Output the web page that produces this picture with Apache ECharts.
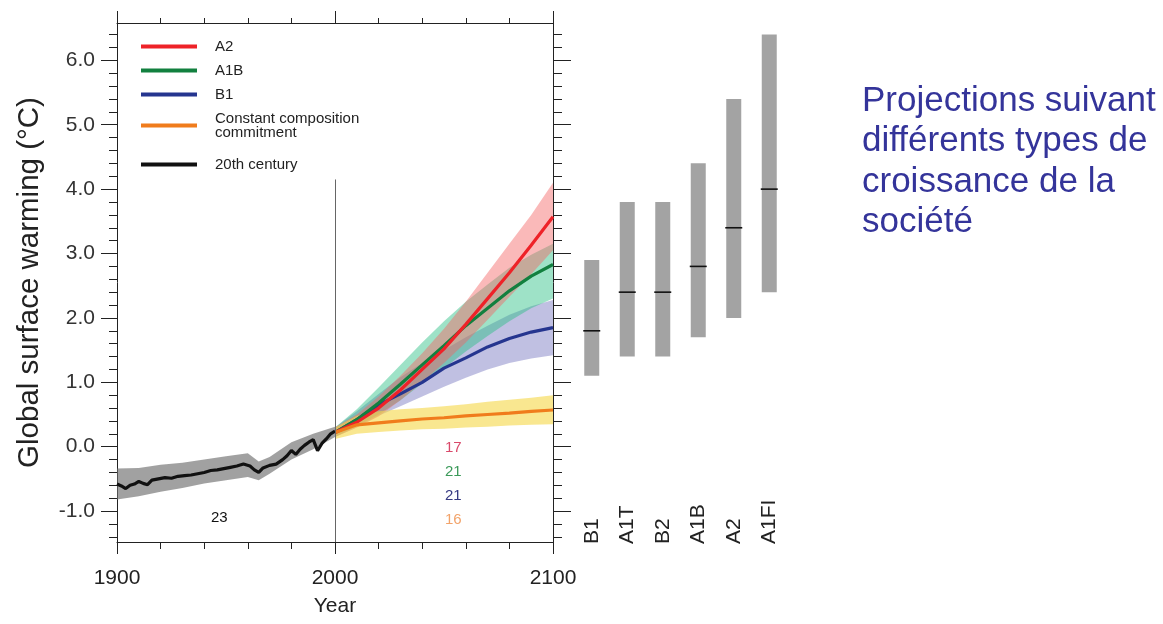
<!DOCTYPE html>
<html>
<head>
<meta charset="utf-8">
<script src="https://cdn.jsdelivr.net/npm/echarts@6/dist/echarts.min.js"></script>
<style>html,body{margin:0;padding:0;background:#fff}#chart{width:1163px;height:624px}</style>
</head>
<body>
<div id="chart"></div>
<script>
// ---------- data ----------
const years20 = [1900,1902,1904,1906,1908,1910,1912,1914,1916,1919,1922,1925,1928,1931,1934,1937,1940,1943,1946,1949,1952,1955,1958,1961,1963,1965,1967,1970,1973,1976,1978,1980,1982,1984,1986,1988,1990,1992,1994,1996,1998,2000];
const temp20 = [-0.58,-0.61,-0.65,-0.60,-0.58,-0.54,-0.57,-0.59,-0.52,-0.50,-0.48,-0.49,-0.46,-0.45,-0.44,-0.42,-0.40,-0.37,-0.36,-0.34,-0.32,-0.30,-0.27,-0.30,-0.36,-0.40,-0.33,-0.29,-0.27,-0.20,-0.14,-0.06,-0.12,-0.04,0.02,0.07,0.11,-0.06,0.05,0.12,0.20,0.24];
const band20Years = [1900,1910,1920,1930,1940,1950,1960,1965,1970,1980,1990,2000];
const band20Low  = [-0.82,-0.77,-0.70,-0.64,-0.57,-0.52,-0.47,-0.52,-0.42,-0.20,-0.04,0.15];
const band20High = [-0.34,-0.33,-0.28,-0.25,-0.20,-0.15,-0.10,-0.23,-0.16,0.07,0.20,0.31];

const projYears = [2000,2010,2020,2030,2040,2050,2060,2070,2080,2090,2100];
const a2Values  = [0.22,0.38,0.60,0.88,1.20,1.52,1.90,2.30,2.70,3.13,3.57];
const a1bValues = [0.22,0.42,0.68,0.97,1.27,1.57,1.88,2.15,2.42,2.65,2.83];
const b1Values  = [0.22,0.42,0.65,0.82,1.00,1.22,1.38,1.55,1.68,1.78,1.85];
const ccValues  = [0.22,0.34,0.37,0.40,0.43,0.45,0.48,0.50,0.52,0.55,0.57];

const a2Low   = [0.15,0.30,0.47,0.72,1.00,1.30,1.62,1.97,2.33,2.68,3.05];
const a2High  = [0.30,0.50,0.78,1.10,1.45,1.83,2.25,2.70,3.15,3.60,4.10];
const a1bLow  = [0.15,0.32,0.50,0.72,0.98,1.22,1.48,1.72,1.95,2.15,2.30];
const a1bHigh = [0.30,0.58,0.92,1.27,1.62,1.95,2.25,2.52,2.78,2.98,3.15];
const b1Low   = [0.15,0.30,0.48,0.63,0.78,0.93,1.07,1.20,1.30,1.37,1.42];
const b1High  = [0.30,0.55,0.82,1.08,1.30,1.50,1.70,1.88,2.05,2.18,2.28];
const ccLow   = [0.12,0.20,0.23,0.25,0.27,0.28,0.30,0.31,0.33,0.34,0.35];
const ccHigh  = [0.30,0.48,0.55,0.58,0.60,0.63,0.66,0.70,0.73,0.76,0.80];

const scenarioNames = ['B1','A1T','B2','A1B','A2','A1FI'];
const scenarioBest  = [1.8,2.4,2.4,2.8,3.4,4.0];
const scenarioLow   = [1.1,1.4,1.4,1.7,2.0,2.4];
const scenarioHigh  = [2.9,3.8,3.8,4.4,5.4,6.4];

const modelCounts = ['17','21','21','16'];
const count20 = '23';

const xMajorTicks = [1900,2000,2100];
const yMajorTicks = [-1,0,1,2,3,4,5,6];

const seriesNames = ['A2','A1B','B1','Constant composition commitment','20th century'];
const titleText = 'Projections suivant\ndifférents types de\ncroissance de la\nsociété';

// ---------- helpers ----------
const Y_MIN = -1.48, Y_MAX = 6.58;
const xMinorTicks = [];
for (let y = 1900; y <= 2100; y += 20) if (y % 100 !== 0) xMinorTicks.push(y);
const yMinorTicks = [];
for (let k = -7; k <= 32; k++) if (k % 5 !== 0) yMinorTicks.push(k / 5);

const FONT = 'Liberation Sans, Arial, Helvetica, sans-serif';
const AX = '#222';
const zip = (xs, ys) => xs.map((x, i) => [x, ys[i]]);

function bandSeries(years, low, high, color, z) {
  return {
    type: 'custom', xAxisIndex: 0, yAxisIndex: 0, silent: true, z: z,
    data: years.map((y, i) => [y, low[i], high[i]]),
    encode: { x: 0, y: [1, 2] },
    renderItem: function (params, api) {
      if (params.dataIndex !== 0) return null;
      const pts = [];
      for (let i = 0; i < years.length; i++) pts.push(api.coord([years[i], high[i]]));
      for (let i = years.length - 1; i >= 0; i--) pts.push(api.coord([years[i], low[i]]));
      return { type: 'polygon', shape: { points: pts }, style: { fill: color } };
    }
  };
}
function lineSeries(name, xs, ys, color, z) {
  return {
    name: name, type: 'line', xAxisIndex: 0, yAxisIndex: 0,
    data: zip(xs, ys), showSymbol: false, symbol: 'none', z: z,
    itemStyle: { color: color },
    lineStyle: { color: color, width: 3.2 }
  };
}
function tickAxis(base, values, len, extra) {
  return Object.assign({
    type: 'value', splitLine: { show: false },
    axisLine: { show: false, onZero: false, lineStyle: { color: AX } },
    axisTick: { show: true, customValues: values, length: len, lineStyle: { color: AX, width: 1 } },
    axisLabel: { show: false }
  }, base, extra || {});
}

const legendText = { fontFamily: FONT, fontSize: 15, lineHeight: 14, color: '#222', padding: [0, 0, 0, 13] };

const chart = echarts.init(document.getElementById('chart'), null, { renderer: 'canvas' });

const option = {
  animation: false,
  backgroundColor: '#ffffff',
  textStyle: { fontFamily: FONT },
  grid: [
    { left: 117, top: 23, width: 436, height: 519 },
    { left: 574, top: 23, width: 213, height: 519 }
  ],
  legend: [
    {
      data: seriesNames.slice(0, 4), orient: 'vertical', left: 136, top: 34,
      icon: 'rect', itemWidth: 56, itemHeight: 4, itemGap: 9,
      formatter: n => n.replace(' commitment', '\ncommitment'),
      textStyle: legendText, selectedMode: false
    },
    {
      data: seriesNames.slice(4), orient: 'vertical', left: 136, top: 152,
      icon: 'rect', itemWidth: 56, itemHeight: 4,
      textStyle: legendText, selectedMode: false
    }
  ],
  xAxis: [
    tickAxis({ gridIndex: 0, min: 1900, max: 2100, position: 'bottom' }, xMajorTicks, 12, {
      axisLine: { show: true, onZero: false, lineStyle: { color: AX } },
      axisLabel: { show: true, customValues: xMajorTicks, formatter: v => String(v),
                   fontSize: 21, color: '#222', margin: 26 },
      name: 'Year', nameLocation: 'middle', nameGap: 54,
      nameTextStyle: { fontSize: 21, color: '#222' }
    }),
    tickAxis({ gridIndex: 0, min: 1900, max: 2100, position: 'bottom' }, xMinorTicks, 7),
    tickAxis({ gridIndex: 0, min: 1900, max: 2100, position: 'top' }, xMajorTicks, 12, {
      axisLine: { show: true, onZero: false, lineStyle: { color: AX } }
    }),
    tickAxis({ gridIndex: 0, min: 1900, max: 2100, position: 'top' }, xMinorTicks, 5),
    {
      gridIndex: 1, type: 'category', data: scenarioNames, position: 'bottom',
      axisLine: { show: false, onZero: false }, axisTick: { show: false }, splitLine: { show: false },
      axisLabel: { inside: true, rotate: 90, fontSize: 21, color: '#222', margin: -2 }
    }
  ],
  yAxis: [
    tickAxis({ gridIndex: 0, min: Y_MIN, max: Y_MAX, position: 'left' }, yMajorTicks, 16, {
      axisLine: { show: true, onZero: false, lineStyle: { color: AX } },
      axisLabel: { show: true, customValues: yMajorTicks, formatter: v => Number(v).toFixed(1),
                   fontSize: 21, color: '#333', margin: 22 },
      name: 'Global surface warming (°C)', nameLocation: 'middle', nameRotate: 90, nameGap: 72,
      nameTextStyle: { fontSize: 29.5, color: '#222' }
    }),
    tickAxis({ gridIndex: 0, min: Y_MIN, max: Y_MAX, position: 'left' }, yMinorTicks, 8),
    tickAxis({ gridIndex: 0, min: Y_MIN, max: Y_MAX, position: 'right' }, yMajorTicks, 18, {
      axisLine: { show: true, onZero: false, lineStyle: { color: AX } }
    }),
    tickAxis({ gridIndex: 0, min: Y_MIN, max: Y_MAX, position: 'right' }, yMinorTicks, 9),
    { gridIndex: 1, type: 'value', min: Y_MIN, max: Y_MAX, show: false, splitLine: { show: false } }
  ],
  graphic: [
    { type: 'text', left: 862, top: 81, z: 10,
      style: { text: titleText, font: '35px ' + FONT, fill: '#34349a', lineHeight: 40.5 } },
    { type: 'text', left: 211, top: 510, style: { text: count20, font: '15px ' + FONT, fill: '#111' } },
    { type: 'text', left: 445, top: 440, style: { text: modelCounts[0], font: '15px ' + FONT, fill: '#d9496a' } },
    { type: 'text', left: 445, top: 464, style: { text: modelCounts[1], font: '15px ' + FONT, fill: '#3c9a5a' } },
    { type: 'text', left: 445, top: 488, style: { text: modelCounts[2], font: '15px ' + FONT, fill: '#363a82' } },
    { type: 'text', left: 445, top: 512, style: { text: modelCounts[3], font: '15px ' + FONT, fill: '#f2a36a' } }
  ],
  series: [
    bandSeries(band20Years, band20Low, band20High, 'rgba(110,110,110,0.65)', 1),
    bandSeries(projYears, b1Low, b1High, 'rgba(115,115,190,0.45)', 1),
    bandSeries(projYears, a1bLow, a1bHigh, 'rgba(40,190,130,0.45)', 1),
    bandSeries(projYears, a2Low, a2High, 'rgba(245,100,100,0.45)', 1),
    bandSeries(projYears, ccLow, ccHigh, 'rgba(245,215,70,0.6)', 1),
    lineSeries(seriesNames[2], projYears, b1Values, '#25358f', 3),
    lineSeries(seriesNames[1], projYears, a1bValues, '#12803f', 3),
    lineSeries(seriesNames[0], projYears, a2Values, '#ee2228', 3),
    lineSeries(seriesNames[3], projYears, ccValues, '#f07c1c', 3),
    Object.assign(lineSeries(seriesNames[4], years20, temp20, '#111111', 4), {
      markLine: {
        silent: true, symbol: ['none', 'none'], label: { show: false },
        lineStyle: { color: '#666', width: 1, type: 'solid' },
        data: [[{ coord: [2000, Y_MIN] }, { coord: [2000, 4.15] }]]
      }
    }),
    {
      type: 'custom', xAxisIndex: 4, yAxisIndex: 4, silent: true,
      data: scenarioNames.map((n, i) => [i, scenarioLow[i], scenarioHigh[i], scenarioBest[i]]),
      encode: { x: 0, y: [1, 2] },
      renderItem: function (params, api) {
        const lo = api.coord([api.value(0), api.value(1)]);
        const hi = api.coord([api.value(0), api.value(2)]);
        const md = api.coord([api.value(0), api.value(3)]);
        return { type: 'group', children: [
          { type: 'rect', shape: { x: lo[0] - 7.5, y: hi[1], width: 15, height: lo[1] - hi[1] },
            style: { fill: '#a3a3a3' } },
          { type: 'line', shape: { x1: md[0] - 8.5, y1: md[1], x2: md[0] + 8.5, y2: md[1] },
            style: { stroke: '#111', lineWidth: 1.6 } }
        ] };
      }
    }
  ]
};
chart.setOption(option);
</script>
</body>
</html>
